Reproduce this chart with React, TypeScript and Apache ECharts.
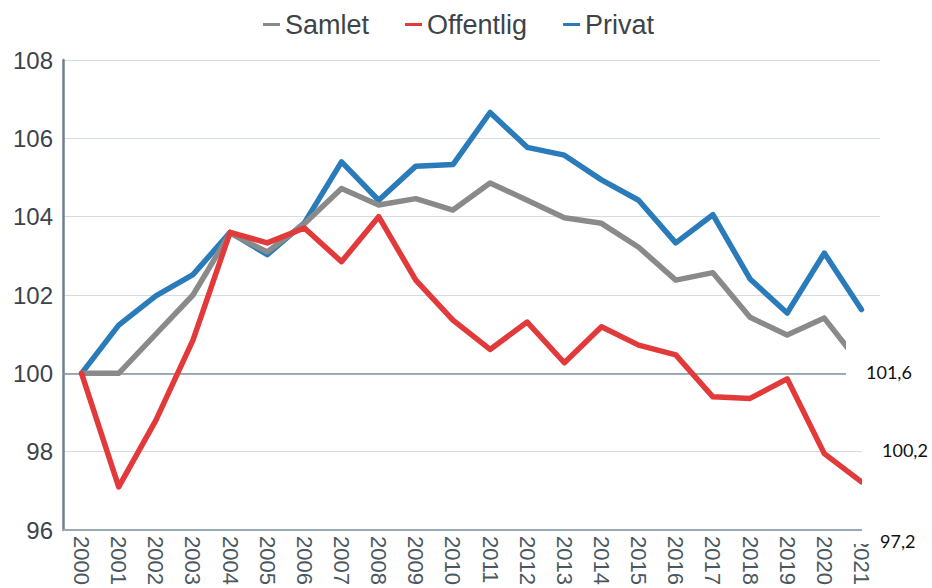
import React, { useEffect, useRef } from "react";
import * as echarts from "echarts";

const years = ["2000","2001","2002","2003","2004","2005","2006","2007","2008","2009","2010","2011","2012","2013","2014","2015","2016","2017","2018","2019","2020","2021"];
const samlet = [100, 100.0, 101.0, 102.0, 103.58, 103.1, 103.82, 104.72, 104.3, 104.46, 104.17, 104.86, 104.42, 103.97, 103.83, 103.22, 102.38, 102.57, 101.43, 100.98, 101.41, 100.2];
const offentlig = [100, 97.1, 98.8, 100.85, 103.6, 103.33, 103.71, 102.85, 104.0, 102.38, 101.36, 100.61, 101.31, 100.27, 101.19, 100.72, 100.47, 99.4, 99.36, 99.86, 97.95, 97.23];
const privat = [100, 101.23, 101.98, 102.52, 103.6, 103.03, 103.84, 105.4, 104.42, 105.29, 105.33, 106.66, 105.77, 105.57, 104.94, 104.42, 103.33, 104.05, 102.41, 101.54, 103.07, 101.63];
const yTicks = { min: 96, max: 108, interval: 2 };
const endNotes = ["101,6", "100,2", "97,2"];

export default function App() {
  const ref = useRef<HTMLDivElement>(null);
  useEffect(() => {
    if (!ref.current) return;
    const chart = echarts.init(ref.current, null, { renderer: "svg" });
    const lineStyle = (color: string) => ({ color, width: 5.5, cap: "round", join: "round" });
    chart.setOption({
      animation: false,
      backgroundColor: "#ffffff",
      legend: {
        top: 6,
        left: 258,
        icon: "rect",
        itemWidth: 17,
        itemHeight: 3,
        itemGap: 36,
        textStyle: { fontFamily: "Liberation Sans", fontSize: 27, color: "#3d4449" },
        data: ["Samlet", "Offentlig", "Privat"],
      },
      grid: { left: 63, right: 52, top: 60, bottom: 58, containLabel: false },
      xAxis: {
        type: "category",
        data: years,
        boundaryGap: true,
        axisTick: { show: false },
        axisLine: { show: true, lineStyle: { color: "#9aa9b3", width: 2 } },
        axisLabel: {
          interval: 0,
          rotate: -90,
          margin: 6,
          fontFamily: "Liberation Sans",
          fontSize: 22,
          color: "#4b5860",
        },
      },
      yAxis: {
        type: "value",
        min: yTicks.min,
        max: yTicks.max,
        interval: yTicks.interval,
        axisLine: { show: true, lineStyle: { color: "#6f808b", width: 2.5 } },
        axisTick: { show: false },
        axisLabel: { margin: 10, fontFamily: "Liberation Sans", fontSize: 24, color: "#3d4449" },
        splitLine: { show: true, lineStyle: { color: "#d5dbe2", width: 1 } },
      },
      series: [
        {
          name: "Samlet",
          type: "line",
          data: samlet,
          showSymbol: false,
          itemStyle: { color: "#8a8a8a" },
          lineStyle: lineStyle("#8a8a8a"),
          z: 3,
          markLine: {
            silent: true,
            symbol: "none",
            label: { show: false },
            lineStyle: { color: "#7f95a3", width: 1.5, type: "solid" },
            data: [{ yAxis: 100 }],
            z: 1,
          },
        },
        {
          name: "Offentlig",
          type: "line",
          data: offentlig,
          showSymbol: false,
          itemStyle: { color: "#e23a3a" },
          lineStyle: lineStyle("#e23a3a"),
          z: 4,
        },
        {
          name: "Privat",
          type: "line",
          data: privat,
          showSymbol: false,
          itemStyle: { color: "#2a7bb9" },
          lineStyle: lineStyle("#2a7bb9"),
          z: 2,
        },
      ],
      graphic: [
        { type: "rect", z: 100, shape: { x: 846, y: 332, width: 45, height: 46 }, style: { fill: "#ffffff" } },
        { type: "rect", z: 100, shape: { x: 862, y: 378, width: 30, height: 157 }, style: { fill: "#ffffff" } },
        { type: "rect", z: 100, shape: { x: 851, y: 532, width: 24, height: 12 }, style: { fill: "#ffffff" } },
        { type: "text", z: 101, x: 866, y: 372, style: { text: endNotes[0], font: "18px Lato", fill: "#111111", verticalAlign: "middle" } },
        { type: "text", z: 101, x: 882, y: 450, style: { text: endNotes[1], font: "18px Lato", fill: "#111111", verticalAlign: "middle" } },
        { type: "text", z: 101, x: 880, y: 541, style: { text: endNotes[2], font: "18px Lato", fill: "#111111", verticalAlign: "middle" } },
      ],
    });
    return () => chart.dispose();
  }, []);
  return <div ref={ref} style={{ position: "fixed", left: 0, top: 0, width: 932, height: 588 }} />;
}
